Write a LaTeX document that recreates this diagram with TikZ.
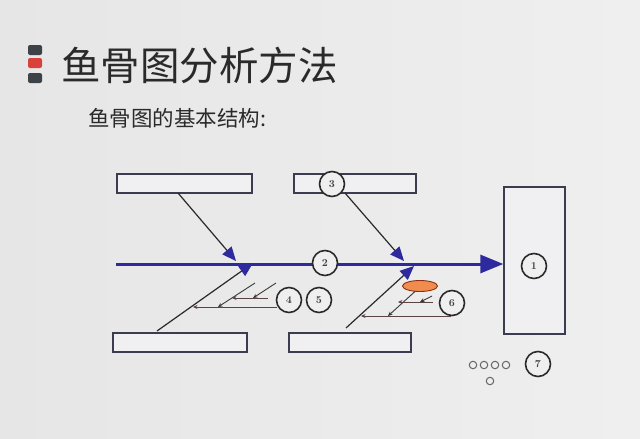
\documentclass[tikz,border=0pt]{standalone}
\usepackage{fontspec}
\newfontfamily\cjk{Noto Sans CJK SC}
\usetikzlibrary{arrows.meta,shapes.geometric}
\definecolor{bgA}{HTML}{E6E6E6}
\definecolor{bgB}{HTML}{EFEFEF}
\definecolor{boxline}{HTML}{3C3C50}
\definecolor{boxfill}{HTML}{F0F0F3}
\definecolor{spine}{HTML}{2E2A9E}
\definecolor{ink}{HTML}{2A2A2A}
\definecolor{twig}{HTML}{3A3A3A}
\definecolor{twigh}{HTML}{5A4444}
\definecolor{darkbar}{HTML}{3D4249}
\definecolor{redbar}{HTML}{D9413B}
\definecolor{orangefill}{HTML}{F08C4E}
\definecolor{orangeline}{HTML}{8A3010}
\tikzset{
  bonebox/.style={draw=boxline,fill=boxfill,line width=1.3pt,inner sep=0pt},
  numcirc/.style={circle,draw=ink,line width=1.6pt,fill=bgB,minimum size=25pt,inner sep=0pt,font=\fontsize{10.5}{10.5}\selectfont\bfseries,text=black!75},
  tinycirc/.style={circle,draw=black!60,line width=1pt,minimum size=7.5pt,inner sep=0pt},
  bonearrow/.style={draw=ink,line width=1.2pt,-{Triangle[length=14pt,width=12pt,fill=spine,color=spine]}},
  twigarrow/.style={draw=twig,line width=0.9pt,-{Stealth[length=4.5pt,width=4pt]}},
  twigharrow/.style={draw=twigh,line width=0.9pt,-{Stealth[length=4.5pt,width=4pt]}}
}
\begin{document}
\begin{tikzpicture}[x=1pt,y=-1pt]
\shade[left color=bgA,right color=bgB] (0,0) rectangle (640,439);
\useasboundingbox (0,0) rectangle (640,439);
% title bars
\fill[darkbar,rounded corners=2pt] (28,45) rectangle (42,55);
\fill[redbar,rounded corners=2pt] (28,58) rectangle (42,68);
\fill[darkbar,rounded corners=2pt] (28,73) rectangle (42,83);
\node[anchor=west,inner sep=0pt,text=ink,font=\cjk\fontsize{39.5}{40}\selectfont] (title) at (61,65) {鱼骨图分析方法};
\node[anchor=west,inner sep=0pt,text=ink,font=\cjk\fontsize{21.5}{22}\selectfont] (sub) at (88,118) {鱼骨图的基本结构:};
% boxes
\node[bonebox,minimum width=135pt,minimum height=19pt] (tl) at (184.5,183.5) {};
\node[bonebox,minimum width=122pt,minimum height=19pt] (tm) at (355,183.5) {};
\node[bonebox,minimum width=134pt,minimum height=19pt] (bl) at (180,342.5) {};
\node[bonebox,minimum width=122pt,minimum height=19pt] (bm) at (350,342.5) {};
\node[bonebox,minimum width=61pt,minimum height=147pt] (head) at (534.5,260.5) {};
% spine
\coordinate (tail) at (116,264);
\draw[spine,line width=3pt,-{Triangle[length=23pt,width=18pt]}] (tail) -- (head.west |- tail);
% main bones
\coordinate (tlS) at (178,193);
\coordinate (tlT) at (236,261);
\coordinate (blS) at (157,331);
\coordinate (blT) at (253,263);
\coordinate (tmS) at (345,193);
\coordinate (tmT) at (404,261);
\coordinate (bmS) at (346,328);
\coordinate (bmT) at (414,266);
\draw[bonearrow] (tlS) -- (tlT);
\draw[bonearrow] (blS) -- (blT);
\draw[bonearrow] (tmS) -- (tmT);
\draw[bonearrow] (bmS) -- (bmT);
% circles
\node[numcirc] (c1) at (534,266) {1};
\node[numcirc] (c2) at (325,263) {2};
\node[numcirc] (c3) at (332,184) {3};
\node[numcirc] (c4) at (289,300) {4};
\node[numcirc] (c5) at (319,300) {5};
\node[numcirc] (c6) at (452,303) {6};
\node[numcirc] (c7) at (538,364) {7};
% left twigs
\coordinate (h1S) at (277,307);
\coordinate (h1T) at (193,307);
\coordinate (d1S) at (255,283);
\coordinate (d1T) at (218,307);
\coordinate (h2S) at (268,298);
\coordinate (h2T) at (232,298);
\coordinate (d2S) at (276,283);
\coordinate (d2T) at (253,298);
\draw[twigharrow] (h1S) -- (h1T);
\draw[twigarrow] (d1S) -- (d1T);
\draw[twigharrow] (h2S) -- (h2T);
\draw[twigarrow] (d2S) -- (d2T);
% middle twigs
\node[ellipse,draw=orangeline,fill=orangefill,line width=0.9pt,minimum width=35pt,minimum height=11pt,inner sep=0pt] (ell) at (420,286) {};
\coordinate (h3S) at (451,316);
\coordinate (h3T) at (361,316);
\coordinate (d3T) at (388,316);
\coordinate (h4S) at (433,302);
\coordinate (h4T) at (398,302);
\coordinate (d4S) at (432,296);
\coordinate (d4T) at (420,302);
\draw[twigharrow] (h3S) -- (h3T);
\draw[twigarrow] (ell.south west) ++(8,1) -- (d3T);
\draw[twigharrow] (h4S) -- (h4T);
\draw[twigarrow] (d4S) -- (d4T);
% small circles
\node[tinycirc] (o1) at (473,365) {};
\node[tinycirc] (o2) at (484,365) {};
\node[tinycirc] (o3) at (495,365) {};
\node[tinycirc] (o4) at (506,365) {};
\node[tinycirc] (o5) at (490,381) {};
\end{tikzpicture}
\end{document}
